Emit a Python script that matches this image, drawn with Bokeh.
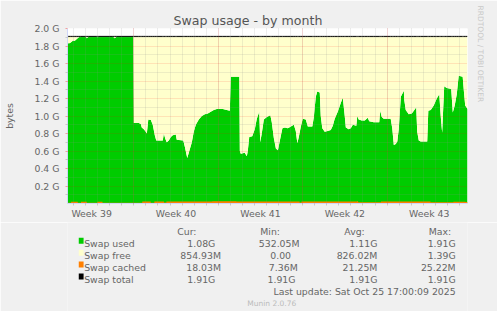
from bokeh.plotting import figure
from bokeh.layouts import column
from bokeh.models import Range1d, FixedTicker, PrintfTickFormatter, Title
from bokeh.core.properties import value
from bokeh.embed import file_html
from bokeh.resources import INLINE

# ---------------- data ----------------
# x: days from the left edge of the graph, y: swap used in G
days = [0.00, 0.11, 0.27, 0.44, 0.61, 0.77, 0.94, 1.10, 1.52, 1.60, 1.77, 2.43, 2.51, 2.60, 3.76, 3.92, 4.09, 5.46,
        5.50, 5.91, 6.08, 6.16, 6.33, 6.49, 6.58, 6.70, 6.91, 7.07, 7.24, 7.36, 7.90, 7.99, 8.11, 8.23, 8.40, 8.57,
        8.73, 8.98, 9.06, 9.60, 9.73, 9.93, 10.10, 10.31, 10.47, 10.64, 10.89, 11.14, 11.39, 11.64, 11.88, 12.13,
        12.38, 12.88, 13.21, 13.46,
        13.54, 14.25, 14.29, 14.37, 14.70, 14.87, 14.95, 15.07, 15.32, 15.53, 15.70, 15.90, 15.98, 16.11, 16.28,
        16.53, 16.82, 16.94, 17.11, 17.28, 17.45, 17.61, 17.82, 18.03, 18.28, 18.52, 18.77, 18.93, 19.06, 19.18,
        19.35, 19.51, 19.76, 19.93, 20.30, 20.42, 20.59, 20.71, 20.92,
        21.00, 21.13, 21.33, 21.58, 21.83, 22.00, 22.16, 22.41, 22.66, 22.83, 22.99, 23.08, 23.32, 23.49, 23.66,
        23.95, 24.03, 24.15, 24.40, 24.65, 24.90, 25.02, 25.40, 25.85, 25.93, 26.06, 26.22, 26.80, 26.93, 27.06,
        27.22, 27.35, 27.47, 27.64, 27.89, 27.93,
        28.05, 28.30, 28.55, 28.72, 28.92, 29.00, 29.13, 29.29, 29.83, 29.92, 30.12, 30.37, 30.62, 30.83, 30.95,
        31.07, 31.16, 31.24, 31.45, 31.82, 31.95, 32.11, 32.28, 32.44, 32.77, 32.86, 32.98, 33.17]
swap_used = [1.84, 1.83, 1.84, 1.86, 1.86, 1.88, 1.90, 1.91, 1.905, 1.89, 1.91, 1.91, 1.90, 1.91, 1.91, 1.89, 1.91, 1.91,
             0.92, 0.92, 0.91, 0.87, 0.85, 0.82, 0.80, 0.96, 0.955, 0.90, 0.78, 0.72, 0.72, 0.80, 0.74, 0.70, 0.72, 0.76,
             0.78, 0.79, 0.73, 0.72, 0.65, 0.52, 0.60, 0.70, 0.82, 0.90, 0.96, 1.00, 1.02, 1.03, 1.05, 1.07,
             1.08, 1.08, 1.07, 1.06,
             1.45, 1.45, 0.60, 0.57, 0.58, 0.54, 0.60, 0.76, 0.77, 0.85, 0.97, 1.05, 0.70, 0.80, 0.96,
             0.99, 1.01, 0.93, 0.75, 0.63, 0.61, 0.72, 0.86, 0.87, 0.86, 0.88, 0.90, 0.83, 0.69, 0.76,
             0.88, 0.97, 0.96, 0.88, 0.88, 0.98, 1.22, 1.28, 1.27,
             1.00, 0.86, 0.82, 0.83, 0.84, 0.89, 0.97, 1.05, 1.15, 1.21, 1.00, 0.87, 0.85, 0.86, 0.90,
             0.89, 1.00, 0.96, 0.95, 0.95, 0.98, 0.94, 0.93, 0.93, 1.06, 0.99, 0.97, 0.97, 0.86, 0.67,
             0.68, 0.71, 0.85, 1.22, 1.29, 1.18,
             1.07, 1.02, 1.03, 1.06, 1.10, 0.82, 0.72, 0.71, 0.71, 1.06, 1.07, 1.12, 1.20, 1.25, 1.00,
             0.81, 1.10, 1.34, 1.32, 1.31, 1.04, 1.12, 1.25, 1.46, 1.45, 1.30, 1.12, 1.08]
swap_total = 1.91  # G

# swap cached, step values (M) starting at the given day
cache_days = [0.0, 0.3, 0.85, 1.12, 1.6, 2.48, 2.9, 6.2, 6.9, 7.2, 8.0, 8.2, 10.4, 12.0, 14.0, 16.0,
              18.5, 19.25, 19.4, 20.0, 22.0, 24.0, 24.1, 26.0, 28.0, 30.0, 30.1, 32.0, 33.0, 33.17]
cache_mb = [9, 21, 9, 21, 8, 20, 8, 23, 10, 23, 12, 23, 24, 25, 22, 24,
            22, 12, 23, 24, 23, 25, 14, 22, 23, 24, 14, 20, 18, 18]

week_mid = [2, 9, 16, 23, 30]
week_labels = ["Week 39", "Week 40", "Week 41", "Week 42", "Week 43"]
week_starts = [5.5, 12.5, 19.5, 26.5]
day_lines = [0.5 + k for k in range(33)]

y_ticks = [0.2, 0.4, 0.6, 0.8, 1.0, 1.2, 1.4, 1.6, 1.8, 2.0]
y_minor = [0.1, 0.3, 0.5, 0.7, 0.9, 1.1, 1.3, 1.5, 1.7, 1.9]

legend_names = ["Swap used", "Swap free", "Swap cached", "Swap total"]
legend_colors = ["#00CC00", "#FFFFCC", "#FF7F00", "#000000"]
stat_headers = ["Cur:", "Min:", "Avg:", "Max:"]
cur_vals = ["1.08G", "854.93M", "18.03M", "1.91G"]
min_vals = ["532.05M", "0.00", "7.36M", "1.91G"]
avg_vals = ["1.11G", "826.02M", "21.25M", "1.91G"]
max_vals = ["1.91G", "1.39G", "25.22M", "1.91G"]
last_update = "Last update: Sat Oct 25 17:00:09 2025"
munin_version = "Munin 2.0.76"

# ---------------- main graph ----------------
FONT = "DejaVu Sans"
TXT = "#666666"
BG = "#F0F0F0"
W = 497
FL, FT, FW, FH = 67, 28, 400, 175
MAIN_H = 222

p = figure(width=W, height=MAIN_H, title="Swap usage - by month", output_backend="svg",
           toolbar_location=None, x_range=Range1d(0, 33.17), y_range=Range1d(0, 2.0),
           min_border_left=FL, min_border_right=W - FL - FW,
           min_border_top=FT, min_border_bottom=MAIN_H - FT - FH)
p.border_fill_color = BG
p.background_fill_color = "#FFFFFF"
p.outline_line_color = None

p.title.align = "left"
p.title.offset = 106
p.title.standoff = 1
p.title.text_font = FONT
p.title.text_font_size = "12.6px"
p.title.text_font_style = "normal"
p.title.text_color = "#555555"

p.add_layout(Title(text="RRDTOOL / TOBI OETIKER", align="left", offset=-23, standoff=16,
                   text_font=FONT, text_font_size="7.5px", text_font_style="normal",
                   text_color="#C8C8C8"), "right")

p.varea(x=days, y1=[0] * len(days), y2=swap_used, fill_color="#00CC00")
p.varea(x=days, y1=swap_used, y2=[swap_total] * len(days), fill_color="#FFFFCC")
p.varea_step(x=cache_days, y1=[0] * len(cache_days), y2=[v / 1024 for v in cache_mb],
             step_mode="after", fill_color="#FF7F00")
p.line(x=days, y=[swap_total] * len(days), line_color="#000000", line_width=1)

AX = "#CFD6F8"
for ax in (p.xaxis[0], p.yaxis[0]):
    ax.axis_line_color = AX
    ax.major_label_text_font = FONT
    ax.major_label_text_font_size = "9.33px"
    ax.major_label_text_color = TXT

p.xaxis.ticker = FixedTicker(ticks=week_mid, minor_ticks=day_lines)
p.xaxis.major_label_overrides = dict(zip(week_mid, week_labels))
p.xaxis.major_tick_out = 0
p.xaxis.major_tick_in = 0
p.xaxis.minor_tick_out = 2
p.xaxis.minor_tick_in = 0
p.xaxis.minor_tick_line_color = "#C8C8C8"
p.xaxis.major_label_standoff = 2

p.yaxis.ticker = FixedTicker(ticks=y_ticks, minor_ticks=y_minor)
p.yaxis.formatter = PrintfTickFormatter(format="%.1f G")
p.yaxis.major_tick_out = 2
p.yaxis.major_tick_in = 0
p.yaxis.major_tick_line_color = "#F0A0A0"
p.yaxis.minor_tick_out = 2
p.yaxis.minor_tick_in = 0
p.yaxis.minor_tick_line_color = "#C8C8C8"
p.yaxis.major_label_standoff = 6
p.yaxis.axis_label = "bytes"
p.yaxis.axis_label_text_font = FONT
p.yaxis.axis_label_text_font_size = "9.33px"
p.yaxis.axis_label_text_font_style = "normal"
p.yaxis.axis_label_text_color = TXT
p.yaxis.axis_label_standoff = 16

p.xgrid.ticker = FixedTicker(ticks=week_starts, minor_ticks=day_lines)
p.ygrid.ticker = FixedTicker(ticks=y_ticks, minor_ticks=y_minor)
for g in (p.xgrid[0], p.ygrid[0]):
    g.level = "annotation"
    g.grid_line_color = "#FF0000"
    g.grid_line_alpha = 0.22
    g.grid_line_dash = "1 1"
    g.minor_grid_line_color = "#909090"
    g.minor_grid_line_alpha = 0.32
    g.minor_grid_line_dash = "1 1"

# ---------------- legend / statistics block (pixel coordinates) ----------------
LEG_TOP = MAIN_H
q = figure(width=W, height=311 - MAIN_H, output_backend="svg", toolbar_location=None,
           x_range=Range1d(0, W), y_range=Range1d(311, LEG_TOP),
           x_axis_type=None, y_axis_type=None, min_border=0)
q.border_fill_color = BG
q.background_fill_color = BG
q.outline_line_color = None
q.grid.visible = False

row_base = [243.3 + 11.9 * i for i in range(len(legend_names))]
q.quad(left=[14] * 4, right=[20] * 4, top=[b - 6 for b in row_base], bottom=row_base,
       fill_color=legend_colors, line_color=None)

common = dict(text_font=value(FONT), text_font_size=value("9.33px"), text_color=TXT,
              text_baseline="alphabetic")
q.text(x=[20.7] * 4, y=row_base, text=legend_names, text_align="left", **common)

head_right = [160.3, 264.0, 369.3, 476.7]
q.text(x=head_right, y=[231] * 4, text=stat_headers, text_align="right", **common)

cur_right = [183.7, 190.7, 190.7, 183.7]
min_right = [288.3, 277.7, 286.0, 283.3]
avg_right = [385.0] * 4
max_right = [482.3] * 4
for xs, vals in ((cur_right, cur_vals), (min_right, min_vals), (avg_right, avg_vals), (max_right, max_vals)):
    q.text(x=xs, y=row_base, text=vals, text_align="right", **common)

q.text(x=[482.3], y=[291.2], text=[last_update], text_align="right", **common)
q.text(x=[223.3], y=[302.5], text=[munin_version], text_align="left", text_font=value(FONT),
       text_font_size=value("7.5px"), text_color="#BBBBBB", text_baseline="alphabetic")

layout = column(p, q, spacing=0)
open("out.html", "w").write(file_html(layout, INLINE))
